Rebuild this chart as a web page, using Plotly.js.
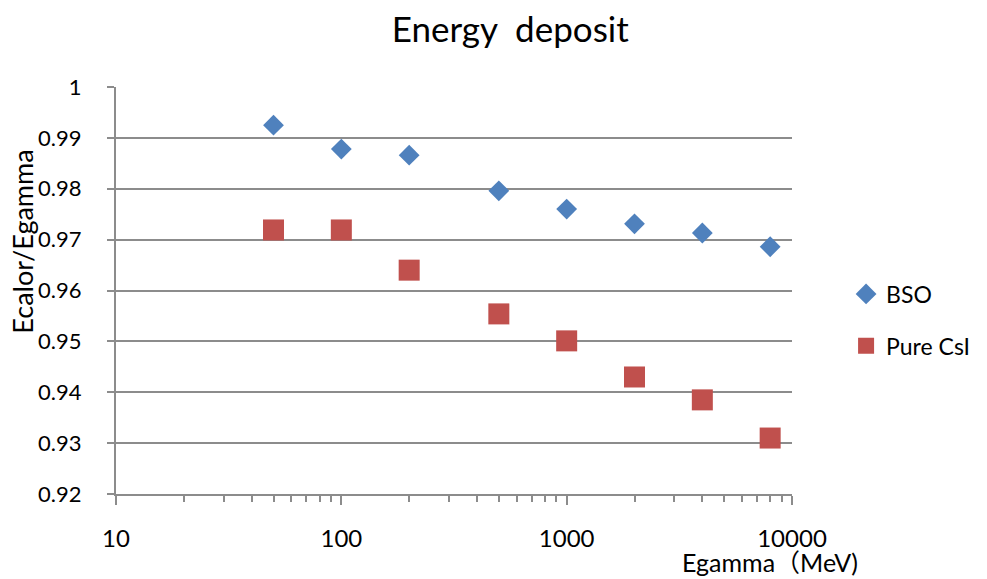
<!DOCTYPE html>
<html>
<head>
<meta charset="utf-8">
<script src="https://cdn.plot.ly/plotly-3.0.1.min.js"></script>
<style>html,body{margin:0;padding:0;background:#fff;}#chart{width:987px;height:579px;}</style>
</head>
<body>
<div id="chart"></div>
<script>
const energies = [50, 100, 200, 500, 1000, 2000, 4000, 8000];
const bsoValues = [0.9925, 0.9878, 0.9866, 0.9796, 0.9760, 0.9731, 0.9713, 0.9686];
const csiValues = [0.9719, 0.9719, 0.9640, 0.9554, 0.9501, 0.9430, 0.9385, 0.9310];
const yTickVals = [0.92, 0.93, 0.94, 0.95, 0.96, 0.97, 0.98, 0.99, 1];
const yTickText = ['0.92', '0.93', '0.94', '0.95', '0.96', '0.97', '0.98', '0.99', '1'];
const xTickVals = [10, 100, 1000, 10000];
const xTickText = ['10', '100', '1000', '10000'];

const FONT = 'Lato, "Noto Sans CJK JP", sans-serif';
const GRID = '#8c8c8c';

const traces = [
  {x: energies, y: bsoValues, name: 'BSO', type: 'scatter', mode: 'markers', legendgroup: 'a',
   marker: {symbol: 'diamond', size: 16, color: '#4F81BD'}},
  {x: energies, y: csiValues, name: 'Pure CsI', type: 'scatter', mode: 'markers', legendgroup: 'b',
   marker: {symbol: 'square', size: 21, color: '#C0504D'}}
];

const layout = {
  width: 987, height: 579,
  margin: {l: 116, r: 195, t: 87, b: 85},
  paper_bgcolor: '#fff', plot_bgcolor: '#fff',
  font: {family: FONT, size: 22, color: '#000'},
  title: {text: 'Energy  deposit', font: {family: FONT, size: 35, color: '#000'}, x: 0.517, xanchor: 'center', y: 0.948, yanchor: 'middle'},
  xaxis: {
    type: 'log', range: [1, 4], tickvals: xTickVals, ticktext: xTickText,
    showgrid: false, zeroline: false, showline: true, linecolor: GRID, linewidth: 2,
    ticks: 'outside', ticklen: 9, tickwidth: 2, tickcolor: GRID,
    ticklabelstandoff: 13, automargin: false,
    tickfont: {family: FONT, size: 24},
    minor: {ticks: 'outside', ticklen: 6, tickwidth: 2, tickcolor: GRID, dtick: 'D1', showgrid: false}
  },
  yaxis: {
    range: [0.92, 1], tickvals: yTickVals, ticktext: yTickText,
    showgrid: true, gridcolor: GRID, gridwidth: 2, zeroline: false,
    showline: true, linecolor: GRID, linewidth: 2,
    ticks: 'outside', ticklen: 7, tickwidth: 2, tickcolor: GRID,
    ticklabelstandoff: 21, automargin: false,
    tickfont: {family: FONT, size: 22}
  },
  legend: {x: 1.08, xanchor: 'left', y: 0.4275, yanchor: 'middle', font: {family: FONT, size: 23},
           tracegroupgap: 19, itemwidth: 30, bgcolor: 'rgba(0,0,0,0)'},
  annotations: [
    {text: 'Egamma（MeV)', xref: 'paper', yref: 'paper', x: 1.1, y: 0, xanchor: 'right', yanchor: 'top',
     yshift: -51, showarrow: false, font: {family: FONT, size: 25, color: '#000'}},
    {text: 'Ecalor/Egamma', xref: 'paper', yref: 'paper', x: 0, y: 0.62, xanchor: 'center', yanchor: 'middle',
     xshift: -93, textangle: -90, showarrow: false, font: {family: FONT, size: 27, color: '#000'}}
  ]
};

Plotly.newPlot('chart', traces, layout, {displayModeBar: false});
</script>
</body>
</html>
